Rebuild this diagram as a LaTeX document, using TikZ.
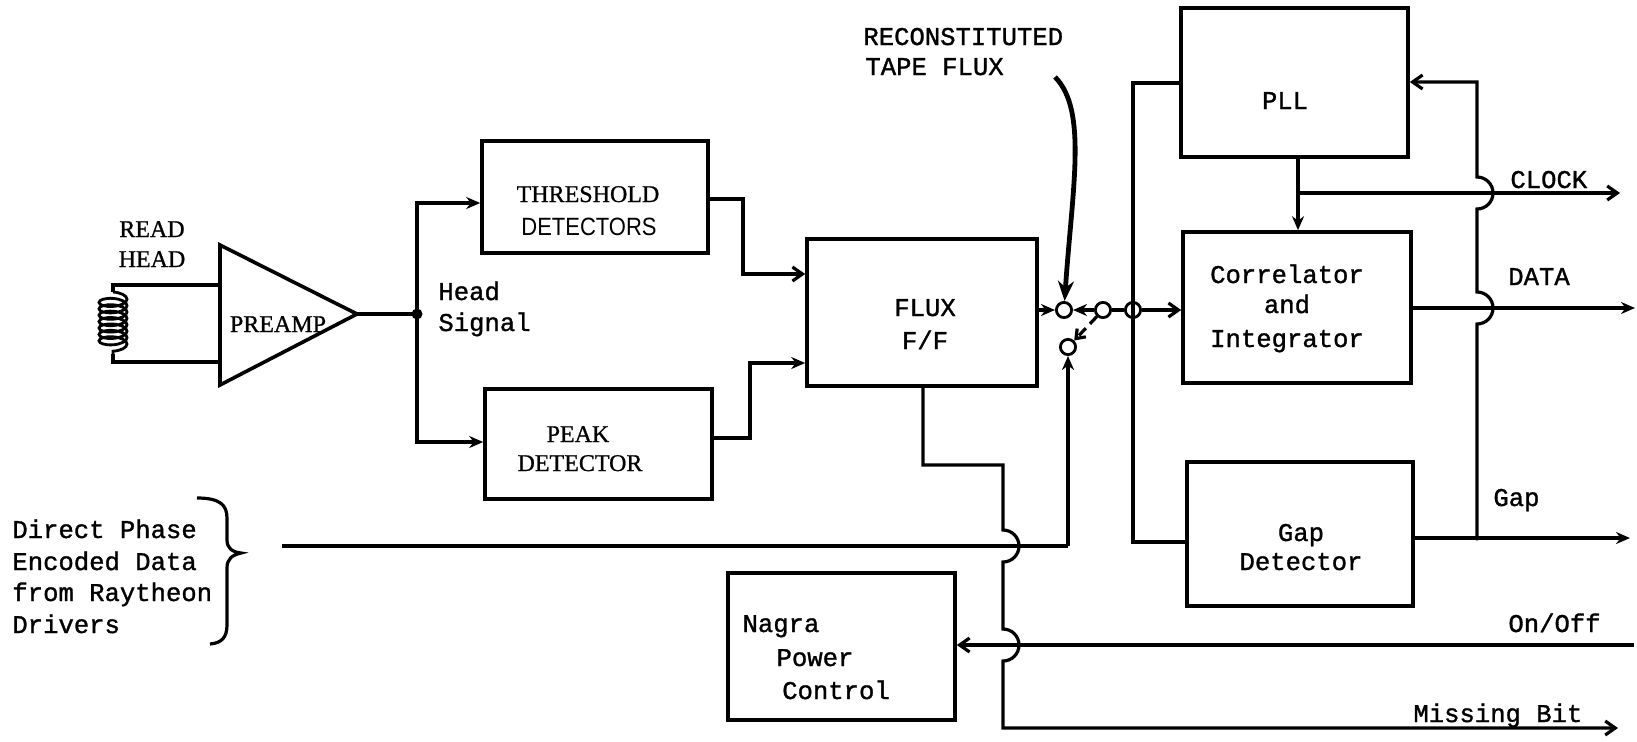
\documentclass[tikz,border=0pt]{standalone}
\usepackage{fontspec}
\setmainfont{Liberation Serif}[FakeBold=0.8]
\newfontfamily\monof{Liberation Mono}[FakeBold=1.2]
\newfontfamily\nsansf{Liberation Sans}[FakeStretch=0.88]
\usetikzlibrary{arrows.meta,fit,decorations.pathmorphing}
\begin{document}
\begin{tikzpicture}[x=0.5pt,y=-0.5pt,
  wire/.style={line width=1.6pt, line join=miter},
  box/.style={draw, line width=1.8pt, rectangle, inner sep=0pt},
  sw/.style={draw, circle, line width=1.4pt, minimum size=7.6pt, inner sep=0pt},
  mt/.style={font=\monof\fontsize{12.8}{15}\selectfont, inner sep=0pt},
  st/.style={font=\fontsize{12}{14}\selectfont, inner sep=0pt},
  nt/.style={font=\nsansf\fontsize{12.5}{14}\selectfont, inner sep=0pt},
  sa/.style={-{Stealth[length=7pt,width=6pt]}},
  ba/.style={-{Straight Barb[length=5pt,width=7pt]}}]
\fill[white] (0,0) rectangle (1637,741);
\useasboundingbox (0,0) rectangle (1637,741);

% ---------------- boxes ----------------
\node[box, fit={(482,141) (708,253)}] (thr) {};
\node[box, fit={(485,389) (712,499)}] (peak) {};
\node[box, fit={(807,239) (1037,386)}] (flux) {};
\node[box, fit={(1181,8) (1408,157)}] (pll) {};
\node[box, fit={(1183,232) (1411,383)}] (corr) {};
\node[box, fit={(1187,462) (1413,606)}] (gapd) {};
\node[box, fit={(728,573) (955,720)}] (nagra) {};

% ---------------- preamp & head ----------------
\coordinate (pa) at (220,245);
\coordinate (pb) at (220,385);
\coordinate (ptip) at (357,314);
\draw[wire, line width=1.8pt] (pa) -- (ptip) -- (pb) -- cycle;
\coordinate (ht) at (220,285);
\coordinate (hb) at (220,362);
\coordinate (c0) at (113,292);
\coordinate (c9) at (113,354);
\draw[wire] (ht) -- (c0 |- ht) -- (c0);
\draw[line width=1.4pt, decorate, decoration={coil, amplitude=7pt, segment length=3.2pt, aspect=0.4}] (c0) -- (c9);
\draw[wire] (c9) -- (c9 |- hb) -- (hb);

% ---------------- texts ----------------
\node[st, anchor=base] (tread) at (152,237) {READ};
\node[st, anchor=base] (thead) at (152,267) {HEAD};
\node[st, anchor=base] (tpre) at (278,332) {PREAMP};
\node[mt, anchor=base west] (thsig1) at (438,300) {Head};
\node[mt, anchor=base west] (thsig2) at (438,331) {Signal};
\node[st, anchor=base] (tthr1) at (588,202) {THRESHOLD};
\node[nt, anchor=base] (tthr2) at (589,235) {DETECTORS};
\node[st, anchor=base] (tpk1) at (578,442) {PEAK};
\node[st, anchor=base] (tpk2) at (580,471) {DETECTOR};
\node[mt, anchor=base] (tflux1) at (925,316) {FLUX};
\node[mt, anchor=base] (tflux2) at (925,349) {F/F};
\node[mt, anchor=base west] (trec1) at (863,45) {RECONSTITUTED};
\node[mt, anchor=base west] (trec2) at (865,75) {TAPE FLUX};
\node[mt, anchor=base] (tpll) at (1285,109) {PLL};
\node[mt, anchor=base] (tcor1) at (1287,283) {Correlator};
\node[mt, anchor=base] (tcor2) at (1287,313) {and};
\node[mt, anchor=base] (tcor3) at (1287,347) {Integrator};
\node[mt, anchor=base] (tgap1) at (1301,541) {Gap};
\node[mt, anchor=base] (tgap2) at (1301,570) {Detector};
\node[mt, anchor=base] (tnag1) at (781,632) {Nagra};
\node[mt, anchor=base] (tnag2) at (815,666) {Power};
\node[mt, anchor=base] (tnag3) at (836,699) {Control};
\node[mt, anchor=base west] (tdp1) at (12,538) {Direct Phase};
\node[mt, anchor=base west] (tdp2) at (12,570) {Encoded Data};
\node[mt, anchor=base west] (tdp3) at (12,601) {from Raytheon};
\node[mt, anchor=base west] (tdp4) at (12,633) {Drivers};
\node[mt, anchor=base west] (tclk) at (1510,188) {CLOCK};
\node[mt, anchor=base] (tdata) at (1539,285) {DATA};
\node[mt, anchor=base west] (tgap) at (1493,506) {Gap};
\node[mt, anchor=base west] (too) at (1508,632) {On/Off};
\node[mt, anchor=base west] (tmb) at (1413,722) {Missing Bit};

% brace
\draw[wire] (197,498) .. controls (220,498) and (227,505) .. (227,518) -- (227,540)
  .. controls (227,548) and (232,552) .. (241,553)
  .. controls (232,555) and (227,559) .. (227,568) -- (227,625)
  .. controls (227,637) and (222,643) .. (210,644);

% ---------------- head signal split ----------------
\coordinate (j) at (417,314);
\coordinate (jt) at (417,203);
\coordinate (jb) at (417,442);
\draw[wire] (ptip) -- (j);
\draw[wire, sa] (j) -- (jt) -- (thr.west |- jt);
\draw[wire, sa] (j) -- (jb) -- (peak.west |- jb);
\fill (j) circle[radius=5.5];

% detectors to flux
\coordinate (t1) at (743,199);
\coordinate (t2) at (743,274);
\draw[wire, ba] (thr.east |- t1) -- (t1) -- (t2) -- (flux.west |- t2);
\coordinate (p1) at (750,438);
\coordinate (p2) at (750,363);
\draw[wire, sa] (peak.east |- p1) -- (p1) -- (p2) -- (flux.west |- p2);

% ---------------- switch ----------------
\node[sw, fill=white] (c1) at (1064,310) {};
\node[sw, fill=white] (c2) at (1103,310) {};
\node[sw] (c3) at (1133,310) {};
\node[sw, fill=white] (c4) at (1068,347) {};
\draw[wire, sa] (flux.east |- c1) -- (c1);
\draw[wire, sa] (c2) -- (c1);
\draw[wire] (c2) -- (c3);
\draw[wire, ba] (c3) -- (corr.west |- c3);
\draw[wire, dashed, dash pattern=on 5pt off 3pt, -{Straight Barb[length=4pt,width=6pt]}] (c2) -- (c4);

% reconstituted tape flux arrow
\coordinate (rc) at (1055,77);
\draw[line width=2.4pt, -{Stealth[length=10pt,width=8pt]}] (rc) .. controls (1088,110) and (1072,190) .. (c1);

% bus
\coordinate (bt) at (1133,83);
\coordinate (bb) at (1133,542);
\draw[wire] (pll.west |- bt) -- (bt) -- (bb) -- (gapd.west |- bb);

% direct phase line
\coordinate (dp) at (282,546);
\coordinate (dpc) at (1068,546);
\draw[wire] (dp) -- (dpc);
\draw[wire, sa] (dpc) -- (c4);

% ---------------- PLL / outputs ----------------
\coordinate (pc) at (1298,193);
\draw[wire, sa] (pll.south -| pc) -- (corr.north -| pc);
\coordinate (clk) at (1620,193);
\draw[wire, ba] (pc) -- (clk);
\coordinate (dat) at (1635,308);
\draw[wire, sa] (corr.east |- dat) -- (dat);
\coordinate (gp) at (1630,538);
\coordinate (fb0) at (1477,538);
\draw[wire, sa] (gapd.east |- gp) -- (gp);
\fill (fb0) circle[radius=2.5];

% feedback to PLL with hops
\coordinate (fbt) at (1477,82);
\draw[wire, ba] (fb0) -- (1477,324) arc[start angle=90, end angle=-90, radius=16]
  -- (1477,209) arc[start angle=90, end angle=-90, radius=16]
  -- (fbt) -- (pll.east |- fbt);

% on/off
\coordinate (oo) at (1634,645);
\draw[wire, ba] (oo) -- (nagra.east |- oo);

% missing bit from flux with hops
\coordinate (m1) at (923,465);
\coordinate (m2) at (1003,465);
\coordinate (m3) at (1003,728);
\coordinate (mb) at (1618,728);
\draw[wire, ba] (flux.south -| m1) -- (m1) -- (m2) -- (1003,530)
  arc[start angle=-90, end angle=90, radius=16]
  -- (1003,629) arc[start angle=-90, end angle=90, radius=16]
  -- (m3) -- (mb);
\end{tikzpicture}
\end{document}
